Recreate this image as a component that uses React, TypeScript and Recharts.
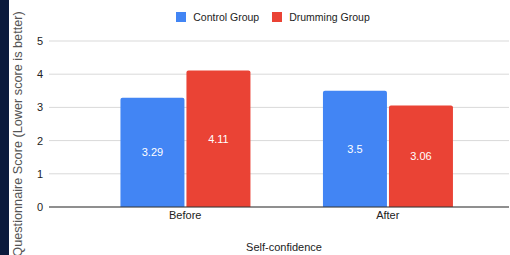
import React from "react";
import { BarChart, Bar, XAxis, YAxis, CartesianGrid, Legend, LabelList } from "recharts";

// phases and questionnaire means
const phases = ["Before", "After"];
const controlGroup = [3.29, 3.5];
const drummingGroup = [4.11, 3.06];
const yTicks = [0, 1, 2, 3, 4, 5];

const data = phases.map((phase, i) => ({
  phase,
  control: controlGroup[i],
  drumming: drummingGroup[i],
}));

const font = "'Liberation Sans', Arial, sans-serif";
const yTitle = "Questionnaire Score (Lower score is better)";

const renderLegend = (props: any) => {
  const items = props.payload || [];
  return (
    <div
      style={{
        display: "flex",
        justifyContent: "center",
        paddingLeft: 50,
        fontFamily: font,
        fontSize: 10.5,
        color: "#222",
        lineHeight: "12px",
      }}
    >
      {items.map((it: any) => (
        <div key={it.value} style={{ display: "flex", alignItems: "center", marginRight: 13 }}>
          <span style={{ width: 10, height: 10, background: it.color, marginRight: 7, display: "inline-block" }} />
          <span>{it.value}</span>
        </div>
      ))}
    </div>
  );
};

// rotated axis title, shifted down a bit like the original (it runs off the bottom edge)
const renderYTitle = (props: any) => {
  const vb = props.viewBox || { x: 0, y: 0, width: 0, height: 0 };
  const cx = vb.x + 18;
  const cy = vb.y + vb.height / 2 + 10;
  return (
    <text
      x={cx}
      y={cy}
      transform={`rotate(-90, ${cx}, ${cy})`}
      textAnchor="middle"
      dominantBaseline="central"
      fill="#555"
      fontSize={12.7}
      fontFamily={font}
    >
      {yTitle}
    </text>
  );
};

export default function App() {
  return (
    <div style={{ position: "fixed", left: 0, top: 0, width: 510, height: 255, background: "#fff" }}>
      <BarChart
        width={510}
        height={255}
        data={data}
        margin={{ top: 17, right: 1, left: 0, bottom: 0 }}
        barCategoryGap="18%"
        barGap={2}
        style={{ fontFamily: font }}
      >
        <CartesianGrid vertical={false} stroke="#d9d9d9" />
        <XAxis
          dataKey="phase"
          padding={{ left: 35, right: 20 }}
          height={48}
          tickLine={false}
          tickSize={4}
          tickMargin={0}
          axisLine={{ stroke: "#333" }}
          tick={{ fill: "#222", fontSize: 11 }}
          label={{ value: "Self-confidence", position: "insideBottom", offset: 4, dx: 5, fill: "#222", fontSize: 11 }}
        />
        <YAxis
          domain={[0, 5]}
          ticks={yTicks}
          width={49}
          tickLine={false}
          axisLine={false}
          tickMargin={0}
          tick={{ fill: "#222", fontSize: 11 }}
          label={{ value: yTitle, content: renderYTitle }}
        />
        <Legend verticalAlign="top" height={24} wrapperStyle={{ top: 11 }} content={renderLegend} />
        <Bar dataKey="control" name="Control Group" fill="#4285F4" radius={[2, 2, 0, 0]} isAnimationActive={false}>
          <LabelList dataKey="control" position="center" fill="#fff" fontSize={11} />
        </Bar>
        <Bar dataKey="drumming" name="Drumming Group" fill="#EA4335" radius={[2, 2, 0, 0]} isAnimationActive={false}>
          <LabelList dataKey="drumming" position="center" fill="#fff" fontSize={11} />
        </Bar>
      </BarChart>
      <div style={{ position: "absolute", left: 0, top: 0, width: 9, height: 255, background: "#0b1a3b" }} />
    </div>
  );
}
